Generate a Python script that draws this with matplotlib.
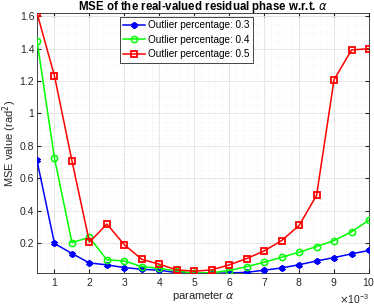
import numpy as np
import matplotlib
matplotlib.use("Agg")
import matplotlib.pyplot as plt
from matplotlib.ticker import MultipleLocator, ScalarFormatter

plt.rcParams['font.family'] = ['Liberation Sans', 'DejaVu Sans']
plt.rcParams['mathtext.fontset'] = 'dejavusans'

# parameter alpha (x 1e-3)
alpha = np.arange(1, 21) * 0.5e-3

mse_03 = [0.71, 0.198, 0.136, 0.078, 0.066, 0.049, 0.039, 0.033, 0.018, 0.015,
          0.014, 0.016, 0.020, 0.033, 0.047, 0.067, 0.090, 0.111, 0.134, 0.155]
mse_04 = [1.45, 0.724, 0.204, 0.235, 0.097, 0.090, 0.055, 0.045, 0.028, 0.015,
          0.018, 0.031, 0.055, 0.082, 0.113, 0.144, 0.179, 0.216, 0.270, 0.342]
mse_05 = [1.62, 1.232, 0.708, 0.206, 0.318, 0.190, 0.100, 0.070, 0.035, 0.027,
          0.035, 0.066, 0.105, 0.152, 0.216, 0.309, 0.495, 1.208, 1.392, 1.400]

labels = ['Outlier percentage: 0.3', 'Outlier percentage: 0.4', 'Outlier percentage: 0.5']

fig = plt.figure(figsize=(3.74, 3.06), dpi=100)
ax = fig.add_axes([37 / 374, 1 - 273.3 / 306, 332 / 374, 260.3 / 306])

asterisk = (6, 2, 0)
ax.plot(alpha, mse_03, color='#0000ff', lw=1.1, marker=asterisk, ms=4.5,
        mew=1.5, label=labels[0], zorder=3)
ax.plot(alpha, mse_04, color='#00ff00', lw=1.1, marker='o', ms=4.5,
        mfc='none', mew=1.1, label=labels[1], zorder=3)
ax.plot(alpha, mse_05, color='#ff0000', lw=1.1, marker='s', ms=4,
        mfc='none', mew=1.3, label=labels[2], zorder=3)

ax.set_xlim(0.5e-3, 10e-3)
ax.set_ylim(min(min(mse_03), min(mse_04), min(mse_05)),
            max(max(mse_03), max(mse_04), max(mse_05)))

ax.xaxis.set_major_locator(MultipleLocator(1e-3))
ax.xaxis.set_minor_locator(MultipleLocator(0.2e-3))
ax.yaxis.set_major_locator(MultipleLocator(0.2))
ax.yaxis.set_minor_locator(MultipleLocator(0.05))

fmt = ScalarFormatter(useMathText=True)
fmt.set_powerlimits((-3, -3))
ax.xaxis.set_major_formatter(fmt)
ax.yaxis.set_major_formatter(plt.FuncFormatter(lambda v, p: f'{v:g}'))

ax.grid(which='major', color='#e6e6e6', lw=0.7)
ax.grid(which='minor', color='#ececec', lw=0.5, ls=(0, (1, 2)))
ax.set_axisbelow(True)

ax.tick_params(which='both', direction='in', top=True, right=True,
               labelsize=7.5, colors='#262626', length=3, pad=2)
ax.tick_params(which='minor', length=0)
for s in ax.spines.values():
    s.set_color('#262626')
    s.set_linewidth(0.6)
ax.xaxis.get_offset_text().set_fontsize(7.5)
ax.xaxis.get_offset_text().set_color('#262626')

ax.set_xlabel(r'parameter $\alpha$', fontsize=8, color='#262626', labelpad=1)
ax.set_ylabel(r'MSE value (rad$^2$)', fontsize=8, color='#262626')
ax.yaxis.set_label_coords(-0.055, 0.5)
# baseline of the title about 10 px from the top of the figure
ax.set_title(r'MSE of the real-valued residual phase w.r.t. $\alpha$',
             fontsize=8.3, fontweight='bold', y=1.012, pad=0, va='baseline')

leg = ax.legend(loc='upper center', bbox_to_anchor=(0.45, 0.985), fontsize=7.2,
                fancybox=False, edgecolor='#262626', framealpha=1,
                handlelength=2.2, borderpad=0.35, labelspacing=0.45,
                handletextpad=0.25, borderaxespad=0)
leg.get_frame().set_linewidth(0.6)

fig.savefig('out.png', dpi=100)
